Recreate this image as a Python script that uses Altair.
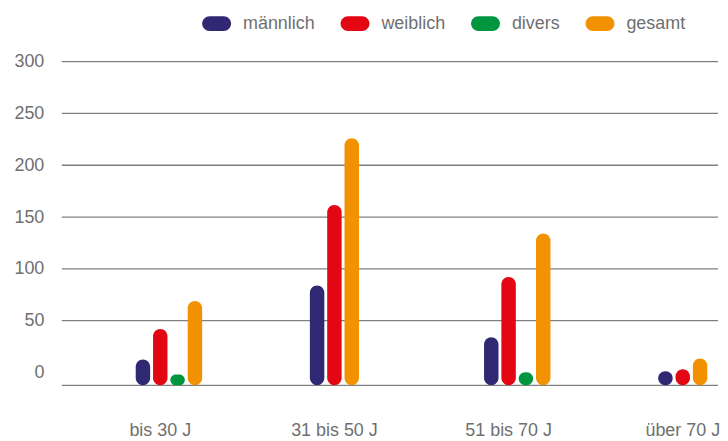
import altair as alt
import pandas as pd

categories = ["bis 30 J", "31 bis 50 J", "51 bis 70 J", "über 70 J"]
series = ["männlich", "weiblich", "divers", "gesamt"]
maennlich = [12.5, 84, 34, 1]
weiblich = [42, 161.5, 92, 3]
divers = [-2, None, 0, None]
gesamt = [69, 226, 134, 13.5]
colors = ["#312873", "#e30613", "#009640", "#f39200"]
y_ticks = [0, 50, 100, 150, 200, 250, 300]
grid_lines = [50, 100, 150, 200, 250, 300]
baseline = -12.5

rows = []
for i, cat in enumerate(categories):
    slot = 0
    for name, vals in zip(series, [maennlich, weiblich, divers, gesamt]):
        v = vals[i]
        if v is None:
            continue
        rows.append({"cat": cat, "series": name, "value": v, "slot": slot})
        slot += 1
df = pd.DataFrame(rows)
grid_df = pd.DataFrame({"value": grid_lines + [baseline]})

FONT = "Liberation Sans"
TXT = "#6f6f6f"
LINE = "#808080"
PILL = ("M -0.483 -0.517 L 0.483 -0.517 A 0.517 0.517 0 0 1 0.483 0.517 "
        "L -0.483 0.517 A 0.517 0.517 0 0 1 -0.483 -0.517 Z")

yscale = alt.Scale(domain=[baseline, 300], nice=False, zero=False)
yaxis = alt.Axis(
    title=None, values=y_ticks, grid=False, domain=False, ticks=False,
    labelPadding=18, labelFontSize=18, labelFont=FONT, labelColor=TXT,
)

rules = alt.Chart(grid_df).mark_rule(color=LINE, strokeWidth=1.3).encode(
    y=alt.Y("value:Q", scale=yscale, axis=yaxis)
)

bars = alt.Chart(df).mark_bar(width=14.5, cornerRadius=7.25).encode(
    x=alt.X(
        "cat:N",
        sort=categories,
        scale=alt.Scale(range=[55.4, 667.1], paddingInner=0.5026, paddingOuter=0),
        axis=alt.Axis(
            title=None, labelAngle=0, ticks=False, domain=False, grid=False,
            labelPadding=36, labelFontSize=18, labelFont=FONT, labelColor=TXT,
        ),
    ),
    xOffset=alt.XOffset(
        "slot:O",
        scale=alt.Scale(domain=[-1, 0, 1, 2, 3], paddingInner=0, paddingOuter=0),
    ),
    y=alt.Y("value:Q", scale=yscale, axis=yaxis),
    y2=alt.datum(baseline),
    color=alt.Color(
        "series:N",
        scale=alt.Scale(domain=series, range=colors),
        legend=alt.Legend(
            title=None, orient="none", legendX=141, legendY=-53,
            direction="horizontal", symbolType=PILL, symbolSize=841,
            symbolStrokeWidth=0, symbolOpacity=1, labelFontSize=18,
            labelFont=FONT, labelColor=TXT, labelOffset=12,
            columnPadding=24, padding=0,
        ),
    ),
)

chart = alt.layer(rules, bars).properties(
    width=659,
    height=325,
    padding={"left": 5, "top": 0, "right": 0, "bottom": 0},
).configure_view(stroke=None)

chart.save("out.html", embed_options={"renderer": "svg", "actions": False})
